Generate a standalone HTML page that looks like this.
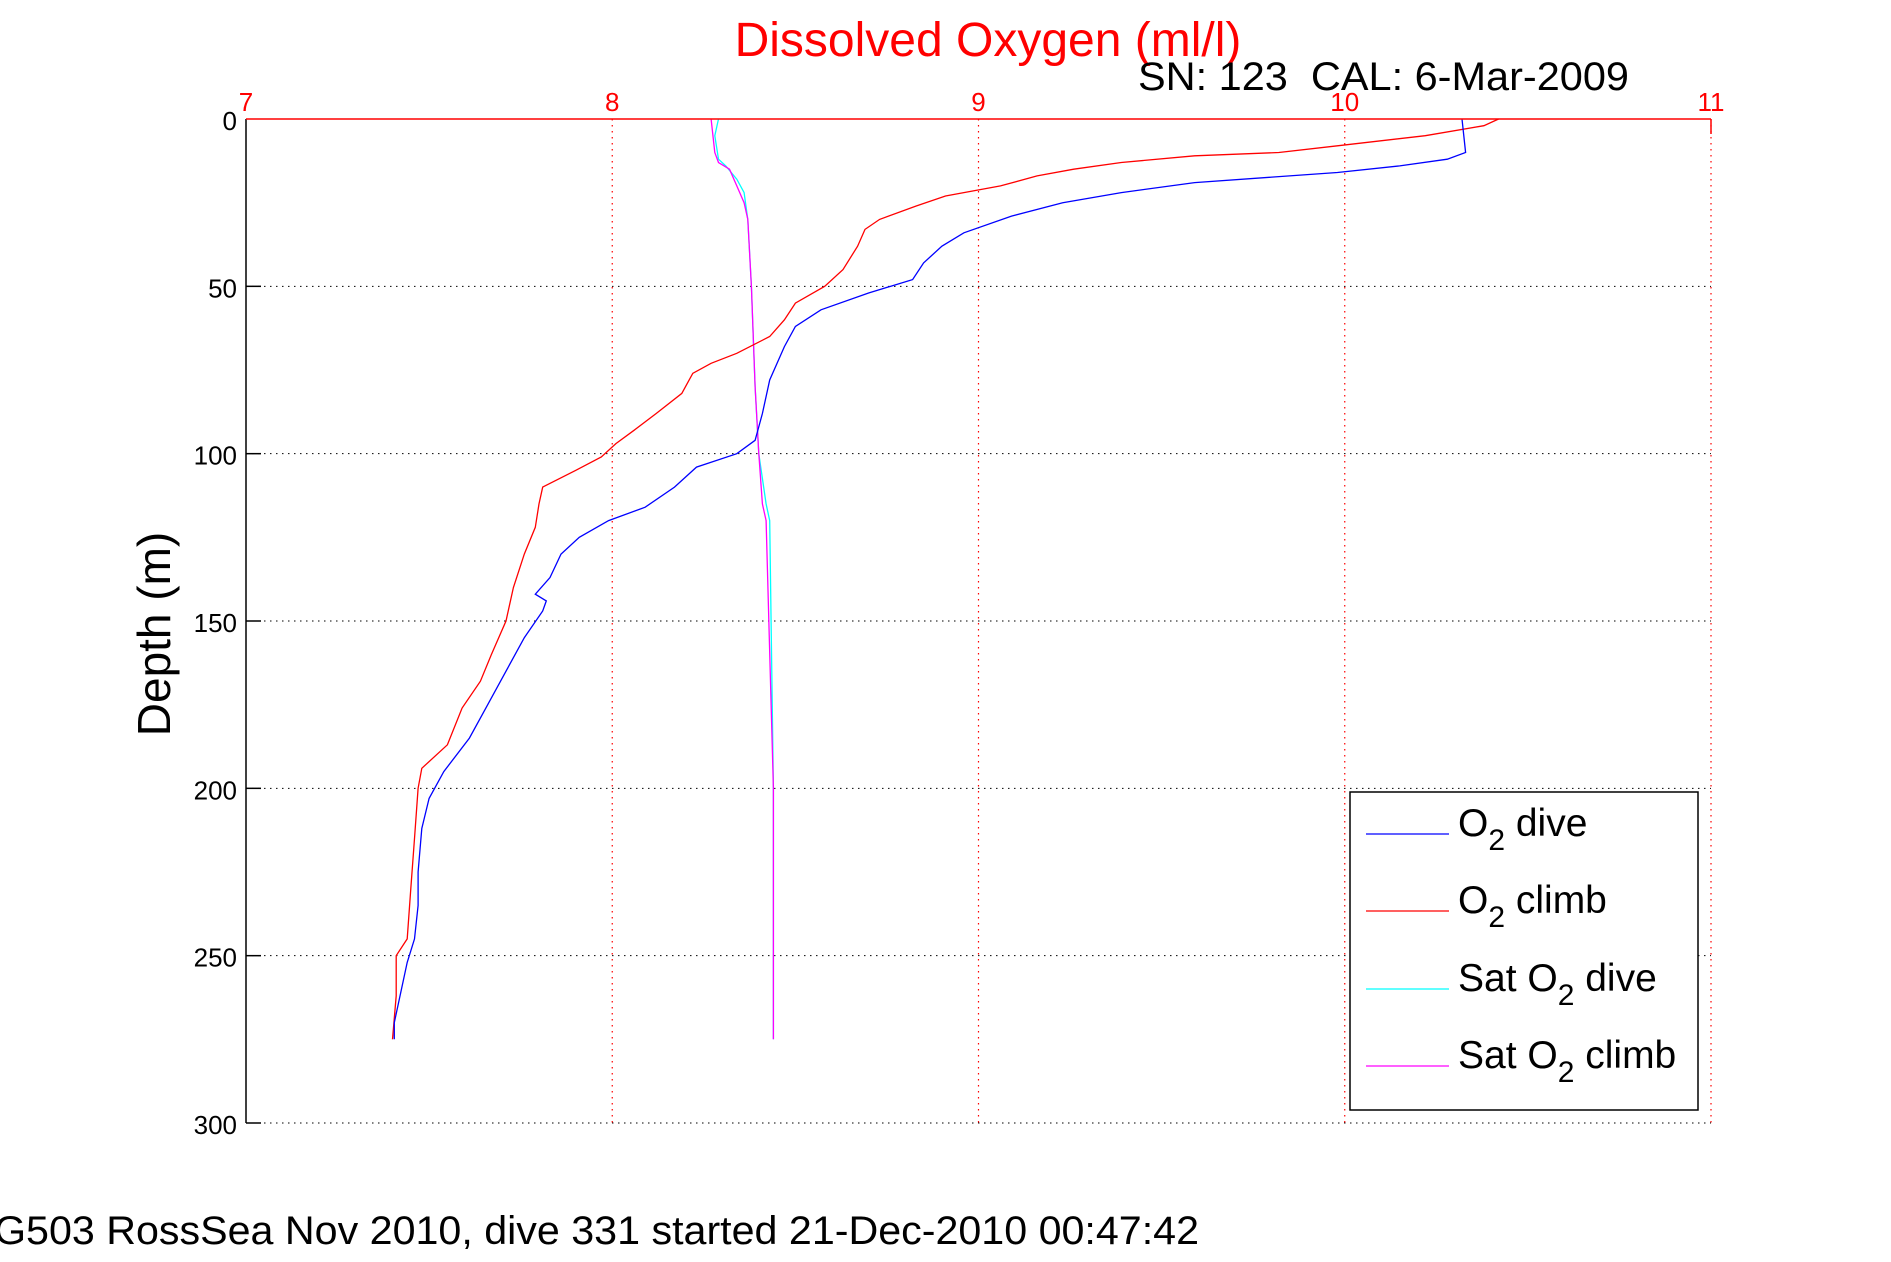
<!DOCTYPE html>
<html><head><meta charset="utf-8"><style>
html,body{margin:0;padding:0;background:#fff;}
svg{display:block;font-family:"Liberation Sans",Arial,sans-serif;}
</style></head><body>
<svg id="chart" width="1891" height="1262" viewBox="0 0 1891 1262" xmlns="http://www.w3.org/2000/svg">
<rect width="1891" height="1262" fill="#fff"/>
<g id="grid"></g>
<g id="series"></g>
<g id="axes"></g>
<text x="988" y="56" font-size="48" fill="#f00" text-anchor="middle">Dissolved Oxygen (ml/l)</text>
<text x="1138" y="90" font-size="40" fill="#000" textLength="491" lengthAdjust="spacingAndGlyphs" xml:space="preserve">SN: 123  CAL: 6-Mar-2009</text>
<text transform="translate(170,634) rotate(-90)" font-size="46" fill="#000" text-anchor="middle">Depth (m)</text>
<text x="-6" y="1244" font-size="40" fill="#000" textLength="1205" lengthAdjust="spacingAndGlyphs">G503 RossSea Nov 2010, dive 331 started 21-Dec-2010 00:47:42</text>
<g>
<rect x="1350" y="792" width="348" height="318" fill="#fff" stroke="#000" stroke-width="1.5"/>
<line x1="1366" y1="834" x2="1449" y2="834" stroke="#00f" stroke-width="1.2"/>
<text x="1458" y="836" font-size="39">O<tspan font-size="30" dy="14">2</tspan><tspan dy="-14"> dive</tspan></text>
<line x1="1366" y1="911" x2="1449" y2="911" stroke="#f00" stroke-width="1.2"/>
<text x="1458" y="913" font-size="39">O<tspan font-size="30" dy="14">2</tspan><tspan dy="-14"> climb</tspan></text>
<line x1="1366" y1="989" x2="1449" y2="989" stroke="#0ff" stroke-width="1.2"/>
<text x="1458" y="991" font-size="39">Sat O<tspan font-size="30" dy="14">2</tspan><tspan dy="-14"> dive</tspan></text>
<line x1="1366" y1="1066" x2="1449" y2="1066" stroke="#f0f" stroke-width="1.2"/>
<text x="1458" y="1068" font-size="39">Sat O<tspan font-size="30" dy="14">2</tspan><tspan dy="-14"> climb</tspan></text>
</g>
</svg>
<script>
const xTicks=[7,8,9,10,11];
const yTicks=[0,50,100,150,200,250,300];
const diveDepth=[0,10,12,14,16,19,22,25,29,34,38,43,48,52,57,62,68,78,88,96,100,104,110,116,120,125,130,137,142,144,147,155,165,175,185,195,203,212,225,235,245,252,270,275];
const diveO2=[10.32,10.33,10.28,10.15,9.98,9.59,9.39,9.23,9.09,8.96,8.90,8.85,8.82,8.70,8.57,8.50,8.47,8.43,8.41,8.39,8.34,8.23,8.17,8.09,7.99,7.91,7.86,7.83,7.79,7.82,7.81,7.76,7.71,7.66,7.61,7.54,7.50,7.48,7.47,7.47,7.46,7.44,7.405,7.405];
const climbDepth=[0,2,5,8,10,11,13,15,17,20,23,26,30,33,38,45,50,55,60,65,70,73,76,82,88,93,97,101,105,110,115,122,130,140,150,160,168,176,187,194,200,215,230,245,250,262,275];
const climbO2=[10.42,10.38,10.22,9.98,9.82,9.59,9.39,9.26,9.16,9.06,8.91,8.83,8.73,8.69,8.67,8.63,8.58,8.50,8.47,8.43,8.34,8.27,8.22,8.19,8.12,8.06,8.01,7.97,7.90,7.81,7.80,7.79,7.76,7.73,7.71,7.67,7.64,7.59,7.55,7.48,7.47,7.46,7.45,7.44,7.41,7.41,7.40];
const satDiveDepth=[0,5,12,14,18,22,30,50,80,100,115,120,200,275];
const satDiveO2=[8.29,8.28,8.29,8.31,8.34,8.36,8.37,8.38,8.39,8.40,8.42,8.43,8.44,8.44];
const satClimbDepth=[0,10,13,15,20,25,30,50,80,100,115,120,200,275];
const satClimbO2=[8.27,8.28,8.29,8.32,8.34,8.36,8.37,8.38,8.39,8.40,8.41,8.42,8.44,8.44];
const X0=246,X1=1711,Y0=119,Y1=1123;
const xs=v=>X0+(v-7)/(11-7)*(X1-X0);
const ys=d=>Y0+d/300*(Y1-Y0);
const NS="http://www.w3.org/2000/svg";
function mk(tag,attrs,parent){const e=document.createElementNS(NS,tag);for(const k in attrs)e.setAttribute(k,attrs[k]);parent.appendChild(e);return e;}
const grid=document.getElementById('grid'),axes=document.getElementById('axes'),ser=document.getElementById('series');
xTicks.forEach(t=>{
 if(t>7){const l=mk('line',{x1:xs(t),y1:Y0,x2:xs(t),y2:Y1,stroke:'#f00','stroke-width':1.2,'stroke-dasharray':'1.5 4.5'},grid);
 
 }
 const tx=mk('text',{x:xs(t),y:111,'font-size':26,fill:'#f00','text-anchor':'middle'},axes);
 tx.textContent=t;
 
 
});
yTicks.forEach(t=>{
 if(t>0){const l=mk('line',{x1:X0,y1:ys(t),x2:X1,y2:ys(t),stroke:'#000','stroke-width':1,'stroke-dasharray':'1.5 4.5'},grid);
 
 
 mk('line',{x1:X0,y1:ys(t),x2:X0+15,y2:ys(t),stroke:'#000','stroke-width':1.5},axes);}
 const tx=mk('text',{x:237,y:ys(t)+11,'font-size':26,fill:'#000','text-anchor':'end'},axes);
 tx.textContent=t;
 
 
});
mk('line',{x1:X0,y1:Y0,x2:X0,y2:Y1,stroke:'#000','stroke-width':1.5},axes);
mk('line',{x1:X0,y1:Y0,x2:X1,y2:Y0,stroke:'#f00','stroke-width':1.5},axes);
mk('line',{x1:X1,y1:Y0,x2:X1,y2:Y0+15,stroke:'#f00','stroke-width':1.5},axes);
function series(ds,vs,color,name){
 const pts=ds.map((d,i)=>xs(vs[i]).toFixed(1)+','+ys(d).toFixed(1)).join(' ');
 const p=mk('polyline',{points:pts,fill:'none',stroke:color,'stroke-width':1.3},ser);
 
 
}
series(satDiveDepth,satDiveO2,'#0ff','sat-o2-dive-line');
series(satClimbDepth,satClimbO2,'#f0f','sat-o2-climb-line');
series(climbDepth,climbO2,'#f00','o2-climb-line');
series(diveDepth,diveO2,'#00f','o2-dive-line');
</script>
</body></html>
